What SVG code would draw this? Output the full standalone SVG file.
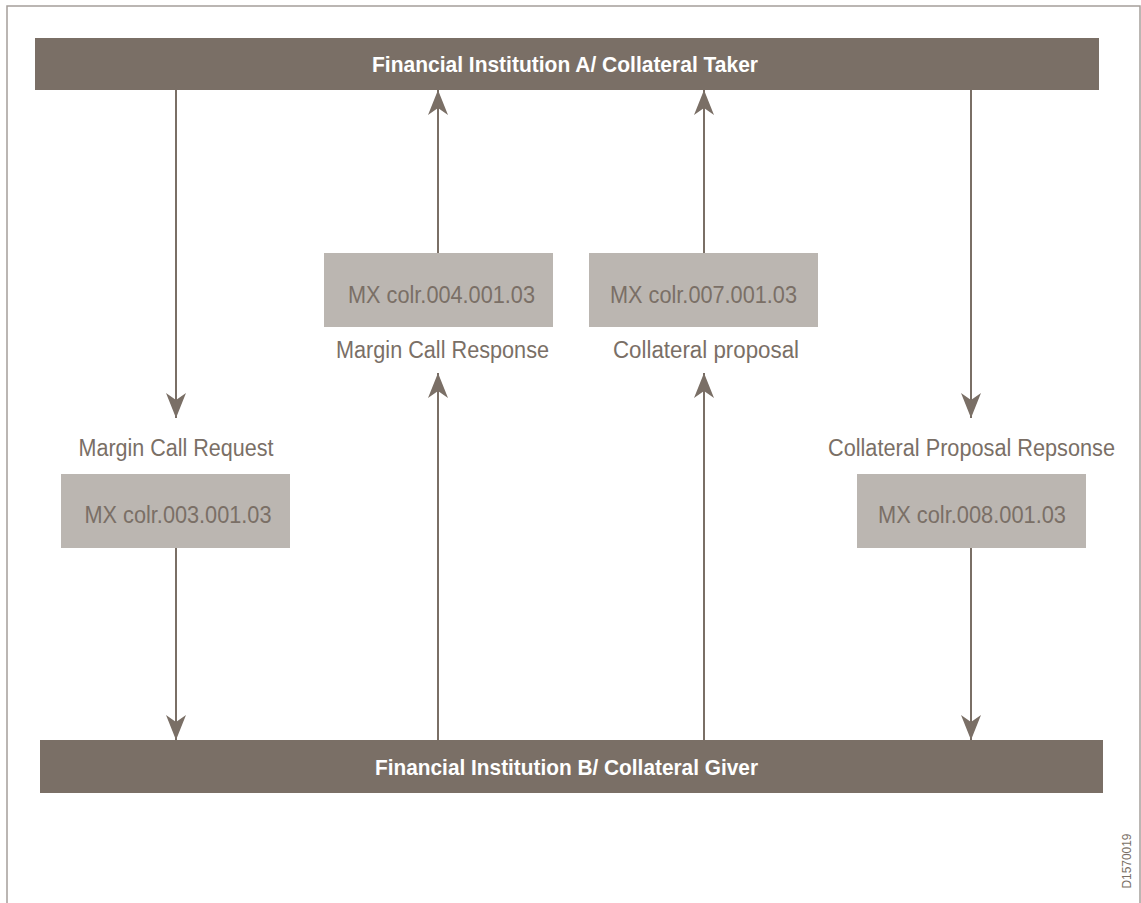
<svg xmlns="http://www.w3.org/2000/svg" width="1141" height="903" viewBox="0 0 1141 903">
  <style>
    .bar { fill: #7a6f66; }
    .bartext { font-family: "Liberation Sans", Arial, sans-serif; font-weight: bold; font-size: 22px; fill: #ffffff; text-anchor: middle; }
    .box { fill: #bbb6b1; }
    .boxtext { font-family: "Liberation Sans", Arial, sans-serif; font-size: 23px; fill: #7a6f66; text-anchor: middle; }
    .label { font-family: "Liberation Sans", Arial, sans-serif; font-size: 23px; fill: #7a6f66; text-anchor: middle; }
    .conn { stroke: #7a6f66; stroke-width: 2; fill: none; marker-end: url(#arrow); }
  </style>
  <defs>
    <marker id="arrow" markerUnits="userSpaceOnUse" markerWidth="30" markerHeight="24" viewBox="-26 -12 28 24" refX="0" refY="0" orient="auto">
      <path d="M0,0 L-25,-10 L-18,0 L-25,10 Z" fill="#7a6f66"/>
    </marker>
  </defs>
  <rect x="0" y="0" width="1141" height="903" fill="#ffffff"/>
  <rect x="7" y="6" width="1133" height="920" fill="none" stroke="#a59f9a" stroke-width="1.5"/>

  <g id="connectors">
    <line class="conn" x1="176" y1="90" x2="176" y2="418"/>
    <line class="conn" x1="176" y1="548" x2="176" y2="740"/>
    <line class="conn" x1="438" y1="740" x2="438" y2="373"/>
    <line class="conn" x1="438" y1="253" x2="438" y2="90"/>
    <line class="conn" x1="704" y1="740" x2="704" y2="373"/>
    <line class="conn" x1="704" y1="253" x2="704" y2="90"/>
    <line class="conn" x1="971" y1="90" x2="971" y2="418"/>
    <line class="conn" x1="971" y1="548" x2="971" y2="740"/>
  </g>

  <g id="institution-a">
    <rect class="bar" x="35" y="38" width="1064" height="52"/>
    <text class="bartext" x="565" y="72" textLength="386" lengthAdjust="spacingAndGlyphs">Financial Institution A/ Collateral Taker</text>
  </g>
  <g id="institution-b">
    <rect class="bar" x="40" y="740" width="1063" height="53"/>
    <text class="bartext" x="566.5" y="775" textLength="383" lengthAdjust="spacingAndGlyphs">Financial Institution B/ Collateral Giver</text>
  </g>

  <g id="colr003">
    <text class="label" x="176" y="456" textLength="195" lengthAdjust="spacingAndGlyphs">Margin Call Request</text>
    <rect class="box" x="61" y="474" width="229" height="74"/>
    <text class="boxtext" x="178" y="523" textLength="187" lengthAdjust="spacingAndGlyphs">MX colr.003.001.03</text>
  </g>
  <g id="colr004">
    <rect class="box" x="324" y="253" width="229" height="74"/>
    <text class="boxtext" x="441.5" y="303" textLength="187" lengthAdjust="spacingAndGlyphs">MX colr.004.001.03</text>
    <text class="label" x="442.5" y="358" textLength="213" lengthAdjust="spacingAndGlyphs">Margin Call Response</text>
  </g>
  <g id="colr007">
    <rect class="box" x="589" y="253" width="229" height="74"/>
    <text class="boxtext" x="703.5" y="303" textLength="187" lengthAdjust="spacingAndGlyphs">MX colr.007.001.03</text>
    <text class="label" x="706" y="358" textLength="186" lengthAdjust="spacingAndGlyphs">Collateral proposal</text>
  </g>
  <g id="colr008">
    <text class="label" x="971.5" y="456" textLength="287" lengthAdjust="spacingAndGlyphs">Collateral Proposal Repsonse</text>
    <rect class="box" x="857" y="474" width="229" height="74"/>
    <text class="boxtext" x="972" y="523" textLength="188" lengthAdjust="spacingAndGlyphs">MX colr.008.001.03</text>
  </g>

  <text x="0" y="0" transform="translate(1131,861) rotate(-90)" font-family="Liberation Sans, Arial, sans-serif" font-size="13" fill="#7a6f66" text-anchor="middle" textLength="55" lengthAdjust="spacingAndGlyphs">D1570019</text>
</svg>
